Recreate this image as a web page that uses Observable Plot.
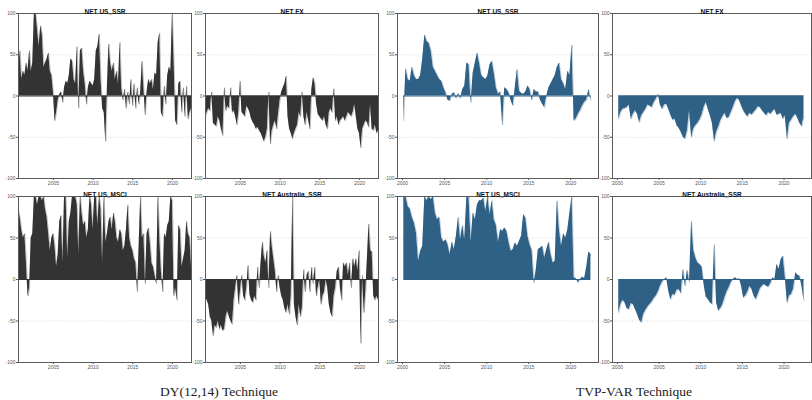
<!DOCTYPE html>
<html>
<head>
<meta charset="utf-8">
<script src="https://cdn.jsdelivr.net/npm/d3@7"></script>
<script src="https://cdn.jsdelivr.net/npm/@observablehq/plot@0.6"></script>
<style>
  html, body { margin: 0; padding: 0; background: #fff; }
  #wrap { position: relative; width: 812px; height: 400px; overflow: hidden; background: #fff; }
  #wrap svg { position: absolute; }
  .cap { position: absolute; top: 384px; font-family: "Liberation Serif", "DejaVu Serif", serif; font-size: 13.5px; line-height: 16px; color: #222; white-space: nowrap; transform: translateX(-50%); }
</style>
</head>
<body>
<div id="wrap"></div>
<script>
// ---------- data ----------
const dyStart = 2000.6, dyStep = 0.2;      // DY(12,14) series time index
const tvpStart = 2000.15, tvpStep = 0.25;  // TVP-VAR series time index

const dyTicks = [2005, 2010, 2015, 2020];
const tvpTicks = [2000, 2005, 2010, 2015, 2020];
const yTicks = [-100, -50, 0, 50, 100];

const titles = ["NET US_SSR", "NET FX", "NET US_MSCI", "NET Australia_SSR"];
const captions = ["DY(12,14) Technique", "TVP-VAR Technique"];

const dyUsSsr = [25,55,20,30,25,40,30,55,30,40,
100,100,80,60,85,75,35,40,45,52,
30,25,5,-30,-20,-5,2,5,-8,10,
18,15,25,45,42,20,15,60,-15,55,
58,30,15,-10,10,18,15,12,20,55,
60,75,20,-15,-20,-55,10,63,40,30,
40,20,30,15,65,10,-5,8,-15,5,
-10,20,-12,15,-15,10,-10,5,42,10,
-23,5,20,15,20,8,28,25,65,76,
-20,-25,12,-10,25,35,30,100,45,-30,
-35,15,18,-20,10,-25,12,-28,-20,-15];

const dyFx = [-25,-20,-15,-18,5,-33,-35,-37,-25,-30,
-40,-48,10,-18,-12,-15,10,-20,-18,-25,
-35,-20,18,-20,-22,-25,-12,-15,-20,-28,
-32,-35,-40,-38,-42,-45,-50,-55,-50,-40,
5,-58,-42,-35,-30,-40,-22,-5,5,10,
15,24,-25,-40,-45,-52,-45,-40,-35,-20,
-25,5,-25,-35,-20,-30,-40,8,22,15,
-10,-22,-25,-28,-30,-25,-35,-40,-20,-15,
-20,9,-30,-25,-35,-30,-28,-25,-30,-25,
-20,-22,-25,-20,-10,-25,-40,-45,-63,-40,
-35,-30,-32,-38,-10,-40,-42,-35,-45,-42];

const dyUsMsci = [85,75,60,50,55,20,-20,-10,50,55,
100,100,90,100,100,95,100,85,75,55,
35,50,55,40,15,30,70,77,20,100,
100,25,70,80,100,100,100,90,30,100,
80,65,70,50,60,100,90,60,100,100,
65,100,85,20,100,45,55,70,75,60,
80,70,50,45,60,55,35,40,60,90,
50,40,35,25,20,-15,40,100,50,55,
-5,55,62,45,20,15,5,-5,100,50,
10,-15,55,50,65,70,100,95,-20,-10,
-25,65,60,15,25,35,70,55,50,15];

const dyAusSsr = [-20,-25,-30,-45,-50,-68,-55,-58,-50,-60,
-55,-62,-60,-45,-38,-45,-50,-54,-25,-10,
5,-30,-15,5,-20,-25,-10,17,-18,-25,
-28,-20,-25,15,-10,20,45,28,20,35,
-10,58,40,25,10,-15,5,-10,-20,-25,
-35,-40,-30,-42,-20,100,-30,-45,-55,-30,
-45,-35,12,-15,5,10,-15,15,-5,15,
-20,-10,0,-30,-20,-15,0,-10,-30,-40,
-45,-20,-10,10,15,-10,-25,20,15,20,
5,20,-10,25,15,25,10,35,-77,5,
-40,-15,25,67,35,33,-20,-25,-20,-25];

const tvpUsSsr = [-30,33,20,18,35,25,20,20,25,45,
74,66,64,55,35,30,25,20,18,10,
4,-5,-6,2,4,-3,3,-3,8,12,
40,38,-8,28,40,52,40,25,22,20,
25,38,42,28,10,2,5,-35,10,8,
4,-5,-12,10,32,6,3,2,5,12,
8,-5,8,5,5,-5,-10,-14,0,10,
15,20,25,35,40,20,15,8,30,25,
62,-30,-28,-22,-18,-12,-8,-5,8,-5];

const tvpFx = [-28,-20,-16,-15,-14,-11,-28,-22,-18,-22,
-32,-24,-20,-16,-11,-12,-14,-8,-4,2,
-11,-16,-11,-10,-16,-23,-29,-28,-36,-39,
-44,-50,-52,-42,-18,-50,-40,-36,-33,-29,
-23,-14,-8,-16,-24,-33,-55,-44,-38,-30,
-25,-21,-27,-26,-20,-14,-7,-3,-5,-12,
-18,-22,-25,-21,-23,-20,-17,-13,-14,-18,
-21,-24,-20,-22,-19,-16,-23,-22,-21,-28,
-24,-52,-33,-29,-25,-22,-27,-33,-37,-25];

const tvpUsMsci = [100,100,88,85,75,68,56,22,34,40,
100,95,100,96,100,80,72,75,50,45,
48,42,30,45,36,52,75,48,65,48,
100,100,45,80,72,90,95,95,98,82,
100,78,95,72,65,45,60,58,62,58,
45,34,36,44,40,46,52,78,74,52,
42,35,-4,12,36,38,40,26,36,45,
30,20,22,95,60,40,55,50,60,80,
100,2,1,-4,0,3,1,15,33,30];

const tvpAusSsr = [-40,-30,-25,-28,-35,-36,-29,-30,-36,-42,
-49,-52,-42,-37,-33,-30,-27,-23,-20,-15,
-8,-3,0,2,-14,-24,-18,-19,-13,-12,
-17,12,-8,11,-3,70,35,26,20,18,
15,-6,-21,-24,-28,-30,42,-28,-38,-35,
-30,-22,-15,-10,-4,0,2,0,1,-8,
-22,-20,-15,-8,-12,-20,-24,-18,-11,-8,
-6,-8,-9,-5,2,0,18,12,24,28,
3,-28,-20,-18,-11,8,5,4,-8,-25];

// ---------- layout ----------
const DY_COLOR = "#333333";
const TVP_COLOR = "#2f6086";

const techs = {
  dy:  { start: dyStart,  step: dyStep,  domain: [2000.6, 2022.4], ticks: dyTicks,  color: DY_COLOR },
  tvp: { start: tvpStart, step: tvpStep, domain: [1999.4, 2023.3], ticks: tvpTicks, color: TVP_COLOR }
};

// column boxes: svg left, marginLeft, frame width, marginRight
const cols = [
  { left: 0,   ml: 18, fw: 173, mr: 4 },
  { left: 190, ml: 15, fw: 173, mr: 4 },
  { left: 380, ml: 17, fw: 201, mr: 3 },
  { left: 595, ml: 17, fw: 199, mr: 1 }
];
// row boxes: svg top, marginTop, frame height, marginBottom
const rows = [
  { top: 0,   mt: 13, fh: 165, mb: 12 },
  { top: 183, mt: 13, fh: 166, mb: 12 }
];

const panels = [
  { tech: "dy",  title: titles[0], values: dyUsSsr,   col: 0, row: 0 },
  { tech: "dy",  title: titles[1], values: dyFx,      col: 1, row: 0 },
  { tech: "tvp", title: titles[0], values: tvpUsSsr,  col: 2, row: 0 },
  { tech: "tvp", title: titles[1], values: tvpFx,     col: 3, row: 0 },
  { tech: "dy",  title: titles[2], values: dyUsMsci,  col: 0, row: 1 },
  { tech: "dy",  title: titles[3], values: dyAusSsr,  col: 1, row: 1 },
  { tech: "tvp", title: titles[2], values: tvpUsMsci, col: 2, row: 1 },
  { tech: "tvp", title: titles[3], values: tvpAusSsr, col: 3, row: 1 }
];

const wrap = document.getElementById("wrap");

for (const p of panels) {
  const t = techs[p.tech];
  const c = cols[p.col], r = rows[p.row];
  const data = p.values.map((v, i) => ({ t: t.start + i * t.step, v }));
  const chart = Plot.plot({
    width: c.ml + c.fw + c.mr,
    height: r.mt + r.fh + r.mb,
    marginLeft: c.ml, marginRight: c.mr, marginTop: r.mt, marginBottom: r.mb,
    style: { fontFamily: "'Liberation Sans', Arial, sans-serif", fontSize: "5px", color: "#555", background: "transparent", overflow: "visible" },
    x: { domain: t.domain, ticks: t.ticks, tickFormat: d => String(d), tickSize: 2, tickPadding: 1, label: null },
    y: { domain: [-100, 100], ticks: yTicks, tickFormat: d => String(d), tickSize: 2, tickPadding: 1, label: null },
    marks: [
      Plot.ruleY([-50, 50], { stroke: "#cfcfcf", strokeWidth: 0.7, strokeDasharray: "1,1.5" }),
      Plot.areaY(data, { x: "t", y: "v", fill: t.color, clip: true }),
      Plot.lineY(data, { x: "t", y: "v", stroke: t.color, strokeWidth: 0.5, strokeOpacity: 0.6, clip: true }),
      Plot.ruleY([0], { x1: data[0].t, x2: data[data.length - 1].t, stroke: t.color, strokeWidth: 1.2 }),
      Plot.frame({ stroke: "#5a5a5a", strokeWidth: 1 }),
      Plot.text([p.title], { frameAnchor: "top", dy: -4.5, fontWeight: "bold", fontSize: 6.5, fill: "#111" })
    ]
  });
  chart.style.left = c.left + "px";
  chart.style.top = r.top + "px";
  wrap.appendChild(chart);
}

const capPos = [219, 634];
captions.forEach((txt, i) => {
  const d = document.createElement("div");
  d.className = "cap";
  d.style.left = capPos[i] + "px";
  d.textContent = txt;
  wrap.appendChild(d);
});
</script>
</body>
</html>
